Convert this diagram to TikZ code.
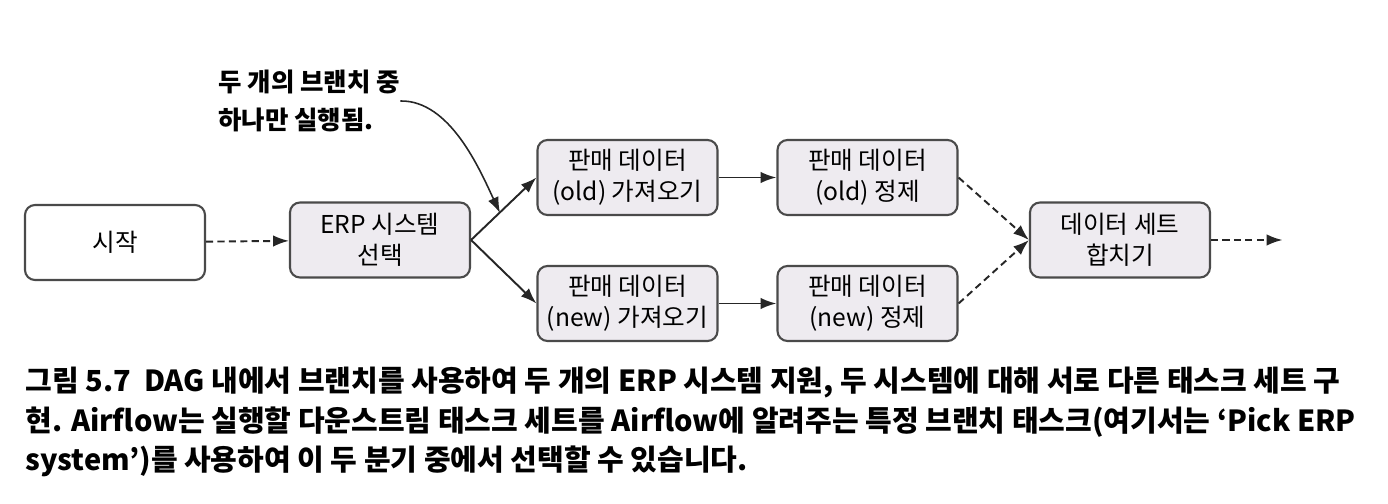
\documentclass[tikz,border=0pt]{standalone}
\usepackage{fontspec}
\setmainfont{Noto Sans CJK KR}
\usepackage{tikz}
\usepackage{xcolor}
\usetikzlibrary{arrows.meta}
\definecolor{boxfill}{HTML}{EEEBF0}
\definecolor{boxline}{HTML}{4A4A4A}

\begin{document}
\begin{tikzpicture}[
  task/.style={draw=boxline, line width=1.2pt, rounded corners=0.2cm, fill=boxfill,
    minimum width=3.6cm, minimum height=1.5cm, align=center,
    font=\fontsize{14}{17.5}\selectfont},
  >={Latex[length=9pt,width=6.5pt]},
  flow/.style={->, line width=1.1pt, black!85},
  skipflow/.style={flow, dash pattern=on 4pt off 2.5pt}
]
\useasboundingbox (0,0) rectangle (27.76,-10.08);
\node[task, fill=white] (A) at (2.3,-4.85) {시작};
\node[task] (B) at (7.6,-4.8) {ERP 시스템\\선택};
\node[task] (C) at (12.55,-3.55) {판매 데이터\\(old) 가져오기};
\node[task] (D) at (12.55,-6.07) {판매 데이터\\(new) 가져오기};
\node[task] (E) at (17.35,-3.55) {판매 데이터\\(old) 정제};
\node[task] (F) at (17.35,-6.07) {판매 데이터\\(new) 정제};
\node[task] (G) at (22.4,-4.8) {데이터 세트\\합치기};
\coordinate (out) at (25.65,-4.8);
\coordinate (tip) at (10.0,-4.26);
\node[align=left, anchor=west, inner sep=0pt, font=\fontsize{14.5}{21.5}\selectfont\bfseries] (note) at (4.36,-2.02)
  {두 개의 브랜치 중\\하나만 실행됨.};
\draw [skipflow] (A) -- (B);
\draw [flow] (B.east) -- (C.west);
\draw [flow] (B.east) -- (D.west);
\draw [flow] (C) -- (E);
\draw [flow] (D) -- (F);
\draw [skipflow] (E.east) -- (G.west);
\draw [skipflow] (F.east) -- (G.west);
\draw [skipflow] (G) -- (out);
\draw [flow, line width=0.9pt] (note.east) .. controls (9.0,-2.0) and (9.6,-3.4) .. (tip);
\node[align=left, anchor=west, inner sep=0pt, font=\fontsize{16.5}{22.7}\selectfont\bfseries] (cap) at (0.5,-8.44)
  {그림 5.7\ \ DAG 내에서 브랜치를 사용하여 두 개의 ERP 시스템 지원, 두 시스템에 대해 서로 다른 태스크 세트 구\\
   현. Airflow는 실행할 다운스트림 태스크 세트를 Airflow에 알려주는 특정 브랜치 태스크(여기서는 ‘Pick ERP\\
   system’)를 사용하여 이 두 분기 중에서 선택할 수 있습니다.};
\end{tikzpicture}
\end{document}
